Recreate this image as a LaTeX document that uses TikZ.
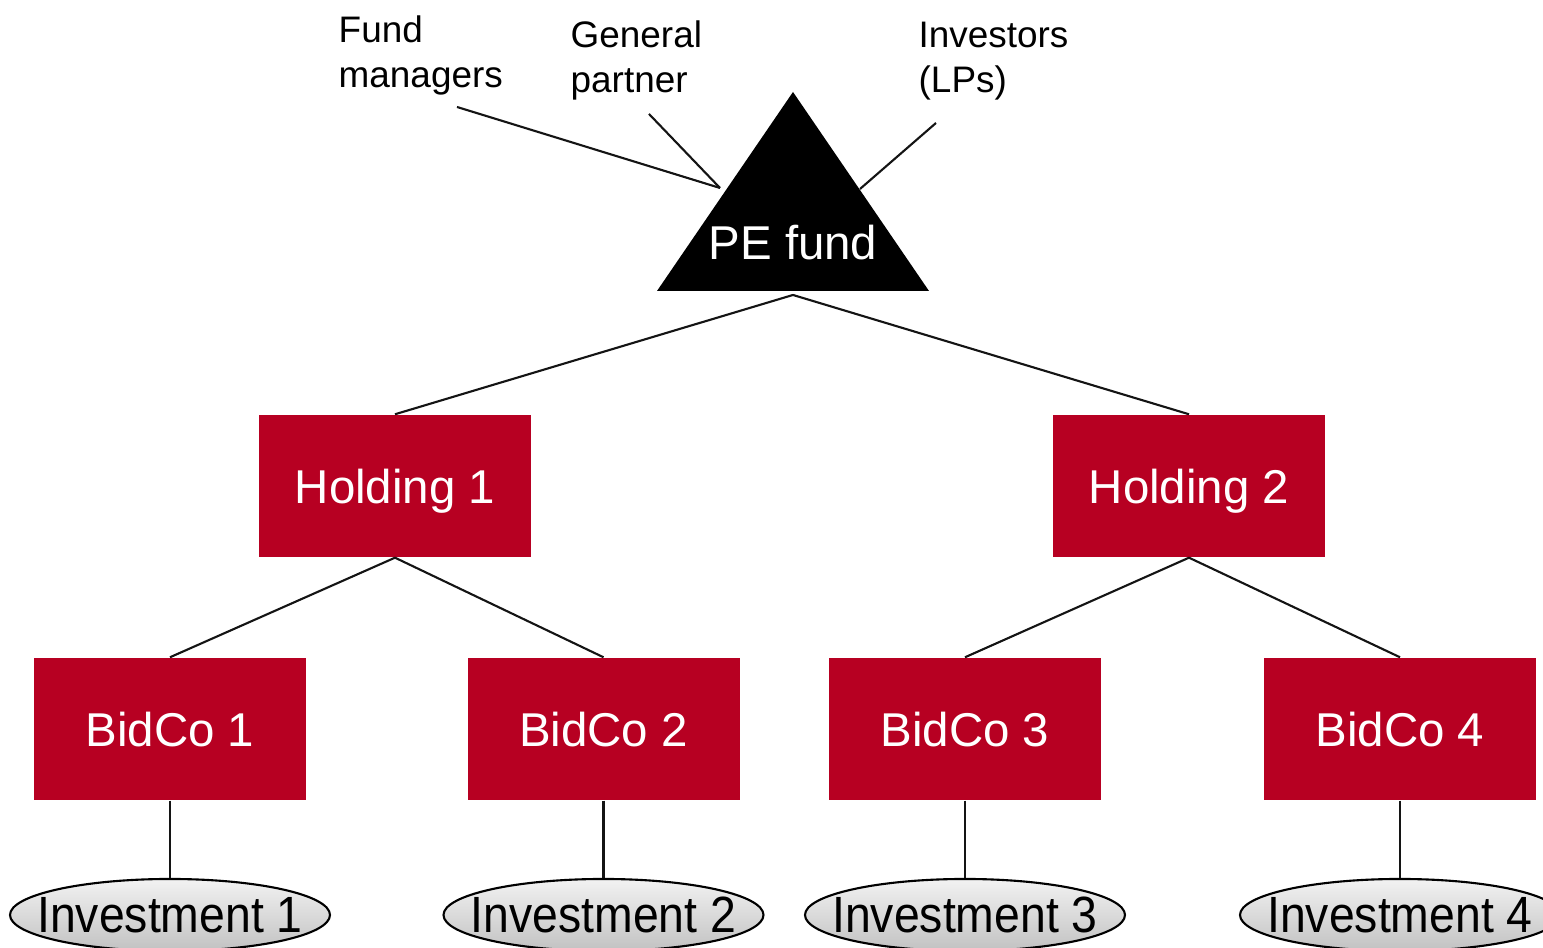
\documentclass[tikz,border=0pt]{standalone}
\usepackage{fontspec}
\setmainfont{Liberation Sans}
\newfontfamily\narrowfont[FakeStretch=0.91]{Liberation Sans}
\usetikzlibrary{shapes.geometric}
\definecolor{entityred}{RGB}{183,0,34}
\definecolor{linkgrey}{RGB}{20,20,20}

\begin{document}
\begin{tikzpicture}[
  entity/.style={fill=entityred, text=white, minimum width=2.72cm, minimum height=1.42cm,
    inner sep=0pt, text depth=0pt, font=\fontsize{13.5}{16}\selectfont},
  invest/.style={ellipse, draw=black, line width=0.6pt, top color=black!5, bottom color=black!24,
    minimum width=3.2cm, minimum height=0.72cm, inner xsep=-0.4cm, inner ysep=0pt,
    text depth=0pt, font=\narrowfont\fontsize{14.5}{17}\selectfont},
  role/.style={anchor=base west, align=left, inner sep=0pt, font=\fontsize{10.5}{13}\selectfont},
  link/.style={draw=linkgrey, line width=0.6pt}]
\useasboundingbox (0,0) rectangle (15.43,9.48);
\clip (0,0) rectangle (15.43,9.48);

\coordinate (apex) at (7.93,8.56);
\coordinate (baseleft) at (6.57,6.57);
\coordinate (baseright) at (9.29,6.57);
\fill[black] (apex) -- (baseleft) -- (baseright) -- cycle;
\node[text=white, inner sep=0pt, font=\fontsize{13.5}{16}\selectfont] (fund) at (7.93,7.05) {PE fund};
\coordinate (fundbase) at (7.93,6.53);

\node[role] (managers) at (3.38,8.60) {Fund\\managers};
\node[role] (partner) at (5.70,8.55) {General\\partner};
\node[role] (investors) at (9.18,8.55) {Investors\\(LPs)};

\coordinate (managersend) at (4.57,8.41);
\coordinate (partnerend) at (6.49,8.34);
\coordinate (investorsend) at (9.36,8.25);
\coordinate (lefttip) at (7.20,7.60);
\coordinate (righttip) at (8.60,7.59);
\draw[link] (managersend) -- (lefttip);
\draw[link] (partnerend) -- (lefttip);
\draw[link] (investorsend) -- (righttip);

\node[entity] (holding1) at (3.95,4.62) {Holding 1};
\node[entity] (holding2) at (11.89,4.62) {Holding 2};

\node[entity] (bidco1) at (1.70,2.19) {BidCo 1};
\node[entity] (bidco2) at (6.035,2.19) {BidCo 2};
\node[entity] (bidco3) at (9.65,2.19) {BidCo 3};
\node[entity] (bidco4) at (14.00,2.19) {BidCo 4};

\node[invest] (invest1) at (1.70,0.33) {Investment 1};
\node[invest] (invest2) at (6.035,0.33) {Investment 2};
\node[invest] (invest3) at (9.65,0.33) {Investment 3};
\node[invest] (invest4) at (14.00,0.33) {Investment 4};

\draw[link] (fundbase) -- (holding1.north);
\draw[link] (fundbase) -- (holding2.north);
\draw[link] (holding1.south) -- (bidco1.north);
\draw[link] (holding1.south) -- (bidco2.north);
\draw[link] (holding2.south) -- (bidco3.north);
\draw[link] (holding2.south) -- (bidco4.north);
\draw[link] (bidco1.south) -- (invest1.north);
\draw[link] (bidco2.south) -- (invest2.north);
\draw[link] (bidco3.south) -- (invest3.north);
\draw[link] (bidco4.south) -- (invest4.north);
\end{tikzpicture}
\end{document}
